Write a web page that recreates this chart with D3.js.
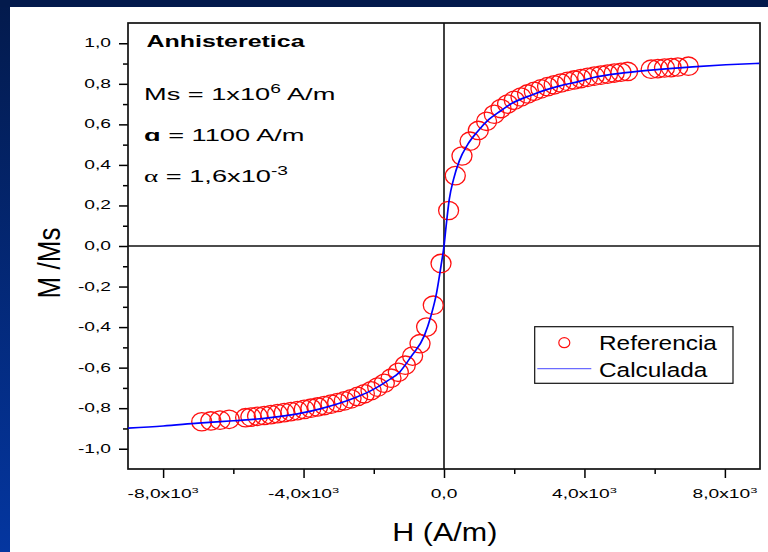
<!DOCTYPE html>
<html>
<head>
<meta charset="utf-8">
<script src="https://cdn.jsdelivr.net/npm/d3@7"></script>
<style>
  body { margin: 0; background: #fff; }
  svg { display: block; }
  text { font-family: "Liberation Sans", Arial, sans-serif; fill: #000; }
</style>
</head>
<body>
<svg id="chart"></svg>
<script>
// Referencia (circles), upper and lower branch
const refUpperH = [131, 322, 512, 740, 977, 1213, 1432, 1623, 1811, 2001, 2192, 2381, 2571, 2762, 2950, 3140, 3330, 3520, 3710, 3900, 4090, 4280, 4470, 4660, 4850, 5040, 5230, 5900, 6090, 6280, 6470, 6660, 6960];
const refUpperM = [0.175, 0.347, 0.444, 0.517, 0.570, 0.615, 0.650, 0.678, 0.700, 0.719, 0.735, 0.750, 0.763, 0.775, 0.786, 0.795, 0.804, 0.812, 0.819, 0.826, 0.832, 0.838, 0.843, 0.848, 0.853, 0.857, 0.861, 0.872, 0.875, 0.878, 0.880, 0.883, 0.887];
const refLowerH = [-85, -305, -495, -683, -894, -1102, -1301, -1509, -1700, -1890, -2078, -2269, -2460, -2648, -2838, -3029, -3217, -3408, -3600, -3790, -3980, -4170, -4360, -4550, -4740, -4930, -5120, -5310, -5500, -5650, -6120, -6380, -6640, -6900];
const refLowerM = [-0.086, -0.292, -0.400, -0.482, -0.543, -0.588, -0.623, -0.652, -0.677, -0.696, -0.714, -0.729, -0.742, -0.754, -0.764, -0.772, -0.780, -0.787, -0.794, -0.800, -0.806, -0.812, -0.817, -0.822, -0.827, -0.832, -0.836, -0.840, -0.844, -0.847, -0.855, -0.859, -0.863, -0.867];

// Calculada (line)
const calcH = [-9000, -8000, -7000, -6000, -5000, -4000, -3500, -3000, -2500, -2000, -1600, -1270, -940, -560, -370, -210, -85, 0, 60, 150, 273, 436, 672, 957, 1270, 1600, 1950, 2500, 2900, 3300, 3850, 4230, 5180, 6130, 7080, 8030, 8980];
const calcM = [-0.898, -0.888, -0.874, -0.862, -0.848, -0.822, -0.802, -0.777, -0.746, -0.706, -0.664, -0.623, -0.546, -0.442, -0.344, -0.230, -0.098, 0, 0.098, 0.230, 0.330, 0.420, 0.500, 0.565, 0.623, 0.665, 0.705, 0.745, 0.770, 0.790, 0.812, 0.830, 0.855, 0.871, 0.884, 0.894, 0.901];

const yTicks = [-1.0, -0.8, -0.6, -0.4, -0.2, 0.0, 0.2, 0.4, 0.6, 0.8, 1.0];
const yMinorTicks = [-0.9, -0.7, -0.5, -0.3, -0.1, 0.1, 0.3, 0.5, 0.7, 0.9];
const xTicks = [-8000, -4000, 0, 4000, 8000];
const xTickLabels = ["-8,0x10", "-4,0x10", "0,0", "4,0x10", "8,0x10"];
const xTickExps = ["3", "3", "", "3", "3"];
const xMinorTicks = [-6000, -2000, 2000, 6000];

const seriesNames = ["Referencia", "Calculada"];

const width = 768;
const height = 552;
const plot = { left: 128, right: 760, top: 23, bottom: 469 };

const svg = d3.select("#chart").attr("width", width).attr("height", height);

// slide background
const defs = svg.append("defs");
const grad = defs.append("linearGradient").attr("id", "band").attr("x1", 0).attr("y1", 0).attr("x2", 0).attr("y2", 1);
grad.append("stop").attr("offset", "0%").attr("stop-color", "#031a4c");
grad.append("stop").attr("offset", "100%").attr("stop-color", "#0436a0");
svg.append("rect").attr("width", width).attr("height", height).attr("fill", "url(#band)");
svg.append("rect").attr("width", width).attr("height", 7).attr("fill", "#031a4c");
svg.append("rect").attr("x", 10).attr("y", 7).attr("width", width - 10).attr("height", height - 7).attr("fill", "#fff");

const x = d3.scaleLinear().domain([-9000, 9000]).range([plot.left, plot.right]);
const y = d3.scaleLinear().domain([-1.1, 1.1]).range([plot.bottom, plot.top]);

// horizontally stretched text, like the exported figure
const stretched = (parent, px, py, sx, rot) =>
  parent.append("g").attr("transform", `translate(${px},${py}) scale(${sx},1)` + (rot ? ` rotate(${rot})` : ""));

// zero lines
svg.append("line")
  .attr("x1", x(0)).attr("x2", x(0)).attr("y1", plot.top).attr("y2", plot.bottom)
  .attr("stroke", "#111").attr("stroke-width", 1.6);
svg.append("line")
  .attr("x1", plot.left).attr("x2", plot.right).attr("y1", y(0)).attr("y2", y(0))
  .attr("stroke", "#111").attr("stroke-width", 1.6);

// axes ticks
const tickStyle = g => {
  g.select(".domain").remove();
  g.selectAll("line").attr("stroke", "#000").attr("stroke-width", 1.5);
};
svg.append("g").attr("transform", `translate(${plot.left},0)`)
  .call(d3.axisLeft(y).tickValues(yTicks).tickSize(9).tickFormat(""))
  .call(tickStyle);
svg.append("g").attr("transform", `translate(${plot.left},0)`)
  .call(d3.axisLeft(y).tickValues(yMinorTicks).tickSize(5).tickFormat(""))
  .call(tickStyle);
svg.append("g").attr("transform", `translate(0,${plot.bottom})`)
  .call(d3.axisBottom(x).tickValues(xTicks).tickSize(9).tickFormat(""))
  .call(tickStyle);
svg.append("g").attr("transform", `translate(0,${plot.bottom})`)
  .call(d3.axisBottom(x).tickValues(xMinorTicks).tickSize(5).tickFormat(""))
  .call(tickStyle);

// tick labels
const fmt = d3.format(".1f");
yTicks.forEach(v => {
  stretched(svg, 111, y(v) + 4, 1.6).append("text")
    .attr("text-anchor", "end").attr("font-size", 12)
    .text(fmt(v).replace(".", ",").replace("−", "-"));
});
xTicks.forEach((v, i) => {
  const t = stretched(svg, x(v), 498, 1.6).append("text")
    .attr("text-anchor", "middle").attr("font-size", 12);
  t.append("tspan").text(xTickLabels[i]);
  if (xTickExps[i]) t.append("tspan").attr("font-size", 8).attr("dy", -5).text(xTickExps[i]);
});

// frame
svg.append("rect")
  .attr("x", plot.left).attr("y", plot.top)
  .attr("width", plot.right - plot.left).attr("height", plot.bottom - plot.top)
  .attr("fill", "none").attr("stroke", "#111").attr("stroke-width", 1.7);

// clip for curve
defs.append("clipPath").attr("id", "clip").append("rect")
  .attr("x", plot.left).attr("y", plot.top)
  .attr("width", plot.right - plot.left).attr("height", plot.bottom - plot.top);

// Referencia circles
const refData = refLowerH.map((h, i) => ({ h, m: refLowerM[i] }))
  .concat(refUpperH.map((h, i) => ({ h, m: refUpperM[i] })));
svg.append("g").selectAll("ellipse")
  .data(refData)
  .enter()
  .append("ellipse")
  .attr("cx", d => x(d.h))
  .attr("cy", d => y(d.m))
  .attr("rx", 10)
  .attr("ry", 9.2)
  .attr("fill", "none")
  .attr("stroke", "#ff1010")
  .attr("stroke-width", 1.3);

// Calculada line
const calcData = calcH.map((h, i) => ({ h, m: calcM[i] }));
svg.append("path")
  .datum(calcData)
  .attr("clip-path", "url(#clip)")
  .attr("fill", "none")
  .attr("stroke", "#0000ff")
  .attr("stroke-width", 1.7)
  .attr("d", d3.line().x(d => x(d.h)).y(d => y(d.m)).curve(d3.curveMonotoneX));

// annotations
stretched(svg, 146.5, 46.5, 1.56).append("text")
  .attr("font-size", 16).attr("font-weight", "bold").text("Anhisteretica");

const ms = stretched(svg, 144, 100, 1.6).append("text").attr("font-size", 17);
ms.append("tspan").text("Ms = 1x10");
ms.append("tspan").attr("font-size", 12).attr("dy", -7).text("6");
ms.append("tspan").attr("dy", 7).text(" A/m");

const aa = stretched(svg, 144, 140.5, 1.6).append("text").attr("font-size", 17);
aa.append("tspan").attr("font-weight", "bold").text("ɑ");
aa.append("tspan").text(" = 1100 A/m");

const al = stretched(svg, 144, 181.5, 1.6).append("text").attr("font-size", 17);
al.append("tspan").attr("font-family", "'Liberation Serif', serif").text("α");
al.append("tspan").text(" = 1,6x10");
al.append("tspan").attr("font-size", 12).attr("dy", -7).text("-3");

// axis titles
stretched(svg, 444.8, 541, 1.22).append("text")
  .attr("text-anchor", "middle").attr("font-size", 25).text("H (A/m)");
stretched(svg, 60, 263, 1.22, -90).append("text")
  .attr("text-anchor", "middle").attr("font-size", 26).text("M /Ms");

// legend
const lg = svg.append("g");
lg.append("rect")
  .attr("x", 534.7).attr("y", 326.7).attr("width", 198.3).attr("height", 56.6)
  .attr("fill", "#fff").attr("stroke", "#111").attr("stroke-width", 1.2);
lg.append("ellipse")
  .attr("cx", 564.3).attr("cy", 342.7).attr("rx", 5.5).attr("ry", 5)
  .attr("fill", "none").attr("stroke", "#ff1010").attr("stroke-width", 1.2);
lg.append("line")
  .attr("x1", 537.3).attr("x2", 591.3).attr("y1", 368.7).attr("y2", 368.7)
  .attr("stroke", "#6b6bff").attr("stroke-width", 1.2);
seriesNames.forEach((name, i) => {
  stretched(lg, 599, 350 + i * 26.5, 1.19).append("text").attr("font-size", 20.5).text(name);
});
</script>
</body>
</html>
